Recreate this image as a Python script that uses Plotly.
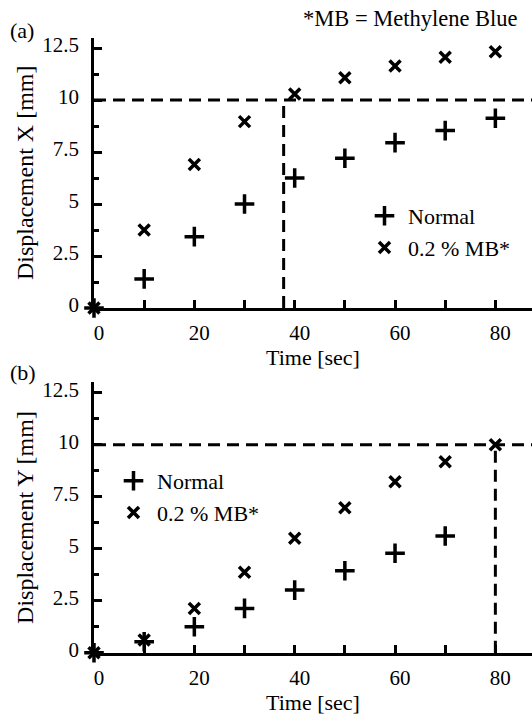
import plotly.graph_objects as go

# ---- data ----
time_a = [0, 10, 20, 30, 40, 50, 60, 70, 80]
normal_a = [0, 1.4, 3.43, 5.0, 6.25, 7.2, 7.95, 8.53, 9.12]
mb_a = [0, 3.75, 6.9, 8.96, 10.29, 11.07, 11.63, 12.05, 12.32]

time_b_normal = [0, 10, 20, 30, 40, 50, 60, 70]
normal_b = [0, 0.53, 1.25, 2.13, 3.01, 3.94, 4.78, 5.61]
time_b_mb = [0, 10, 20, 30, 40, 50, 60, 70, 80]
mb_b = [0, 0.61, 2.13, 3.87, 5.5, 6.97, 8.22, 9.18, 10.0]

threshold_mm = 10
cross_time_a = 37.8
cross_time_b = 80

x_ticks = [0, 20, 40, 60, 80]
y_ticks = [0, 2.5, 5, 7.5, 10, 12.5]
y_tick_text = ["0", "2.5", "5", "7.5", "10", "12.5"]

# ---- geometry ----
W, H = 532, 715
X_MAX = 87.3
Y_MAX = 13.0
FONT = "Liberation Serif, Times New Roman, serif"

def py(p):
    return (H - p) / H

fig = go.Figure()

plus = dict(symbol="cross-thin", size=14, color="black", line=dict(width=3.5, color="black"))
cross = dict(symbol="x-thin", size=11, color="black", line=dict(width=3.5, color="black"))
dash = dict(color="black", width=3, dash="12px,7px")

# panel (a)
fig.add_trace(go.Scatter(x=[0, X_MAX], y=[threshold_mm, threshold_mm], mode="lines", line=dash,
                         showlegend=False, xaxis="x", yaxis="y"))
fig.add_trace(go.Scatter(x=[cross_time_a, cross_time_a], y=[0, threshold_mm], mode="lines", line=dash,
                         showlegend=False, xaxis="x", yaxis="y"))
fig.add_trace(go.Scatter(x=time_a, y=normal_a, mode="markers", marker=plus, name="Normal",
                         xaxis="x", yaxis="y", legend="legend", cliponaxis=False))
fig.add_trace(go.Scatter(x=time_a, y=mb_a, mode="markers", marker=cross, name="0.2 % MB*",
                         xaxis="x", yaxis="y", legend="legend", cliponaxis=False))

# panel (b)
fig.add_trace(go.Scatter(x=[0, X_MAX], y=[threshold_mm, threshold_mm], mode="lines", line=dash,
                         showlegend=False, xaxis="x2", yaxis="y2"))
fig.add_trace(go.Scatter(x=[cross_time_b, cross_time_b], y=[0, threshold_mm], mode="lines", line=dash,
                         showlegend=False, xaxis="x2", yaxis="y2"))
fig.add_trace(go.Scatter(x=time_b_normal, y=normal_b, mode="markers", marker=plus, name="Normal",
                         xaxis="x2", yaxis="y2", legend="legend2", cliponaxis=False))
fig.add_trace(go.Scatter(x=time_b_mb, y=mb_b, mode="markers", marker=cross, name="0.2 % MB*",
                         xaxis="x2", yaxis="y2", legend="legend2", cliponaxis=False))

x_dom = [94 / W, 1.0]

def xax(anchor, title_standoff):
    return dict(domain=x_dom, anchor=anchor, range=[0, X_MAX], tickvals=x_ticks,
                ticks="inside", ticklen=8, tickwidth=2.5, tickcolor="black",
                minor=dict(dtick=10, tick0=0, ticks="inside", ticklen=8, tickwidth=2.5, tickcolor="black"),
                showline=True, linewidth=2.5, linecolor="black", showgrid=False, zeroline=False,
                tickfont=dict(family=FONT, size=21, color="black"), ticklabelstandoff=4,
                ticklabelshift=5,
                title=dict(text="Time [sec]", font=dict(family=FONT, size=22, color="black"),
                           standoff=title_standoff),
                automargin=False)

def yax(anchor, dom, title):
    return dict(domain=dom, anchor=anchor, range=[0, Y_MAX], tickvals=y_ticks, ticktext=y_tick_text,
                ticks="inside", ticklen=8, tickwidth=2.5, tickcolor="black",
                minor=dict(dtick=1.25, tick0=0, ticks="inside", ticklen=5, tickwidth=2.5, tickcolor="black"),
                showline=True, linewidth=2.5, linecolor="black", showgrid=False, zeroline=False,
                tickfont=dict(family=FONT, size=21, color="black"), ticklabelstandoff=8,
                ticklabelshift=-3,
                title=dict(text=title, font=dict(family=FONT, size=24, color="black"), standoff=2),
                automargin=False)

fig.update_layout(
    width=W, height=H,
    margin=dict(l=0, r=0, t=0, b=0),
    paper_bgcolor="white", plot_bgcolor="white",
    font=dict(family=FONT, size=21, color="black"),
    xaxis=xax("y", 4),
    yaxis=yax("x", [py(308), py(37.6)], "Displacement X [mm]"),
    xaxis2=xax("y2", 4),
    yaxis2=yax("x2", [py(652.7), py(382.3)], "Displacement Y [mm]"),
    legend=dict(x=361 / W, y=py(195), xanchor="left", yanchor="top", bgcolor="rgba(0,0,0,0)",
                itemwidth=37, font=dict(family=FONT, size=22, color="black")),
    legend2=dict(x=110 / W, y=py(460), xanchor="left", yanchor="top", bgcolor="rgba(0,0,0,0)",
                 itemwidth=37, font=dict(family=FONT, size=22, color="black")),
    annotations=[
        dict(text="(a)", x=8 / W, y=py(31), xref="paper", yref="paper", xanchor="left", yanchor="middle",
             showarrow=False, font=dict(family=FONT, size=22, color="black")),
        dict(text="(b)", x=8 / W, y=py(372), xref="paper", yref="paper", xanchor="left", yanchor="middle",
             showarrow=False, font=dict(family=FONT, size=22, color="black")),
        dict(text="*MB = Methylene Blue", x=520 / W, y=py(19), xref="paper", yref="paper",
             xanchor="right", yanchor="middle", showarrow=False,
             font=dict(family=FONT, size=22.5, color="black")),
    ],
)

fig.write_html("out.html", config={"displayModeBar": False},
               post_script="document.body.style.margin='0px';")
